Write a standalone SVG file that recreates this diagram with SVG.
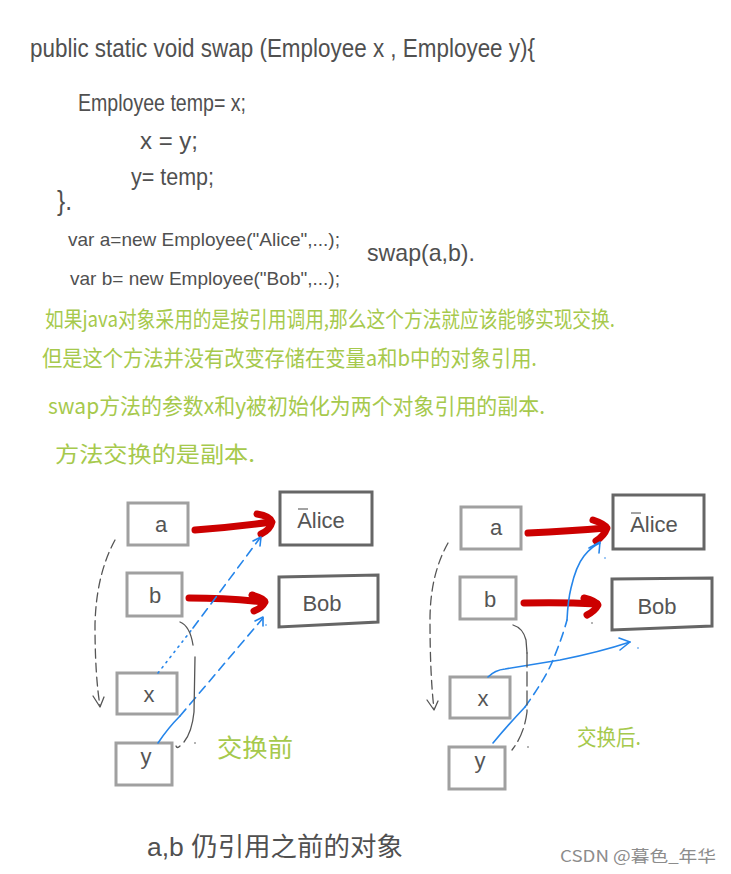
<svg xmlns="http://www.w3.org/2000/svg" width="731" height="874" viewBox="0 0 731 874">
<defs>
<style>
.code{font-family:"Liberation Sans","Noto Sans CJK SC",sans-serif;fill:#505050;}
.note{font-family:"Noto Sans CJK SC",sans-serif;fill:#a6c94c;}
.var{fill:none;stroke:#a0a0a0;stroke-width:3;}
.obj{fill:none;stroke:#666;stroke-width:3;}
.lbl{font-family:"Liberation Sans",sans-serif;fill:#555;font-size:22px;text-anchor:middle;}
.red{fill:none;stroke:#cc0000;stroke-width:7;stroke-linecap:round;stroke-linejoin:round;}
.blue{fill:none;stroke:#2585ea;stroke-width:1.6;stroke-linecap:round;stroke-linejoin:round;}
.gray{fill:none;stroke:#555;stroke-width:1.3;stroke-linecap:round;stroke-linejoin:round;}
</style>
</defs>
<rect width="731" height="874" fill="#ffffff"/>

<g id="code">
<text class="code" x="30" y="57" font-size="25" textLength="505" lengthAdjust="spacingAndGlyphs">public  static  void  swap (Employee x , Employee y){</text>
<text class="code" x="78" y="111" font-size="24" textLength="168" lengthAdjust="spacingAndGlyphs">Employee temp= x;</text>
<text class="code" x="140" y="149" font-size="24" textLength="58" lengthAdjust="spacingAndGlyphs">x = y;</text>
<text class="code" x="131" y="185" font-size="24" textLength="83" lengthAdjust="spacingAndGlyphs">y= temp;</text>
<text class="code" x="57" y="210" font-size="28" textLength="15" lengthAdjust="spacingAndGlyphs">}.</text>
<text class="code" x="68" y="246" font-size="19" textLength="272" lengthAdjust="spacingAndGlyphs">var  a=new Employee("Alice",...);</text>
<text class="code" x="70" y="285" font-size="19" textLength="270" lengthAdjust="spacingAndGlyphs">var  b= new Employee("Bob",...);</text>
<text class="code" x="367" y="261" font-size="24" textLength="108" lengthAdjust="spacingAndGlyphs">swap(a,b).</text>
</g>

<g id="notes">
<text class="note" x="45" y="327" font-size="22" textLength="570" lengthAdjust="spacingAndGlyphs">如果java对象采用的是按引用调用,那么这个方法就应该能够实现交换.</text>
<text class="note" x="42" y="366" font-size="22" textLength="495" lengthAdjust="spacingAndGlyphs">但是这个方法并没有改变存储在变量a和b中的对象引用.</text>
<text class="note" x="48" y="414" font-size="22" textLength="497" lengthAdjust="spacingAndGlyphs">swap方法的参数x和y被初始化为两个对象引用的副本.</text>
<text class="note" x="55" y="462" font-size="22" textLength="200" lengthAdjust="spacingAndGlyphs">方法交换的是副本.</text>
</g>

<!-- left diagram: before swap -->
<g id="before-a"><rect class="var" x="128" y="503" width="60" height="42"/><text class="lbl" x="161" y="532">a</text></g>
<g id="before-b"><rect class="var" x="127" y="573" width="55" height="43"/><text class="lbl" x="155" y="603">b</text></g>
<g id="before-x"><rect class="var" x="117" y="673" width="60" height="41"/><text class="lbl" x="149" y="702">x</text></g>
<g id="before-y"><rect class="var" x="116" y="743" width="56" height="42"/><text class="lbl" x="146" y="764">y</text></g>
<g id="before-alice"><rect class="obj" x="280" y="492" width="92" height="53"/><text class="lbl" x="321" y="528">Alice</text><line x1="298" y1="509" x2="308" y2="509" stroke="#666" stroke-width="1.2"/></g>
<g id="before-bob"><polygon class="obj" points="279,577 378,575 378,622 279,627"/><text class="lbl" x="322" y="611">Bob</text></g>
<g id="before-label"><text class="note" x="217" y="757" font-size="25" textLength="76" lengthAdjust="spacingAndGlyphs">交换前</text></g>

<!-- right diagram: after swap -->
<g id="after-a"><rect class="var" x="461" y="507" width="60" height="42"/><text class="lbl" x="496" y="535">a</text></g>
<g id="after-b"><rect class="var" x="460" y="577" width="56" height="42"/><text class="lbl" x="490" y="607">b</text></g>
<g id="after-x"><rect class="var" x="450" y="677" width="60" height="41"/><text class="lbl" x="483" y="706">x</text></g>
<g id="after-y"><rect class="var" x="449" y="747" width="56" height="42"/><text class="lbl" x="480" y="768">y</text></g>
<g id="after-alice"><rect class="obj" x="613" y="495" width="91" height="54"/><text class="lbl" x="654" y="532">Alice</text><line x1="631" y1="513" x2="641" y2="513" stroke="#666" stroke-width="1.2"/></g>
<g id="after-bob"><polygon class="obj" points="612,579 712,578 712,626 612,630"/><text class="lbl" x="657" y="614">Bob</text></g>
<g id="after-label"><text class="note" x="577" y="745" font-size="22" textLength="64" lengthAdjust="spacingAndGlyphs">交换后.</text></g>

<g id="connectors">
<!-- left red -->
<path class="red" d="M195,530 Q235,527 271,522"/>
<path class="red" d="M257,514 Q270,516 272,522 Q270,530 261,534"/>
<path class="red" d="M189,598 Q228,598 264,602"/>
<path class="red" d="M252,595 Q264,598 265,602 Q262,608 254,611"/>
<!-- left blue -->
<path class="blue" d="M158,673 L193,628" stroke-dasharray="1.5 5"/>
<path class="blue" d="M193,628 L260,538" stroke-dasharray="9 6"/>
<path class="blue" d="M253,541 L261,537 L260,546"/>
<path class="blue" d="M158,743 Q168,728 180,716"/>
<path class="blue" d="M180,716 L263,618" stroke-dasharray="9 6"/>
<path class="blue" d="M255,621 L263,617 L263,626"/>
<circle cx="266" cy="625" r="0.8" fill="#2585ea"/>
<!-- left gray -->
<path class="gray" d="M115,540 Q96,575 95,625 Q95,675 100,706" stroke-dasharray="9 5"/>
<path class="gray" d="M93,696 L100,707 L104,697"/>
<path class="gray" d="M180,622 Q190,626 193,645"/>
<path class="gray" d="M195,657 L194,712 Q192,732 184,742" />
<path class="gray" d="M180,746 Q177,749 176,746"/>
<circle cx="195" cy="743" r="0.8" fill="#555"/>
<!-- right red -->
<path class="red" d="M528,533 Q570,531 606,528"/>
<path class="red" d="M593,520 Q605,524 607,528 Q604,536 596,541"/>
<path class="red" d="M524,603 Q562,602 597,604"/>
<path class="red" d="M584,598 Q596,601 598,605 Q595,611 587,615"/>
<!-- right blue -->
<path class="blue" d="M493,743 Q508,725 525,707"/>
<path class="blue" d="M525,707 Q548,675 555,655 Q563,635 567,620" stroke-dasharray="9 6"/>
<path class="blue" d="M567,620 Q568,600 571,588 Q576,566 584,556 Q592,546 600,543"/>
<path class="blue" d="M589,548 L600,542 L599,553"/>
<circle cx="605" cy="558" r="0.8" fill="#2585ea"/>
<path class="blue" d="M488,677 Q495,670 505,669 Q530,665 560,660 Q600,652 630,642"/>
<path class="blue" d="M619,638 L630,642 L620,650"/>
<circle cx="638" cy="648" r="0.8" fill="#2585ea"/>
<!-- right gray -->
<path class="gray" d="M448,543 Q430,575 430,620 Q430,675 434,709" stroke-dasharray="9 5"/>
<path class="gray" d="M427,700 L434,710 L438,701"/>
<path class="gray" d="M513,625 Q523,628 526,640 L527,653"/>
<path class="gray" d="M527,653 L527,712 Q524,735 512,750" stroke-dasharray="14 5"/>
<circle cx="528" cy="747" r="0.8" fill="#555"/>
<circle cx="592" cy="623" r="0.8" fill="#555"/>
</g>

<g id="footer">
<text class="code" x="147" y="856" font-size="26" textLength="256" lengthAdjust="spacingAndGlyphs" font-family="Liberation Sans, Noto Sans CJK SC, sans-serif">a,b 仍引用之前的对象</text>
<text x="560" y="862" font-size="16" font-family="Noto Sans CJK SC, sans-serif" fill="#8c8c8c" textLength="156" lengthAdjust="spacingAndGlyphs">CSDN @暮色_年华</text>
</g>
</svg>
